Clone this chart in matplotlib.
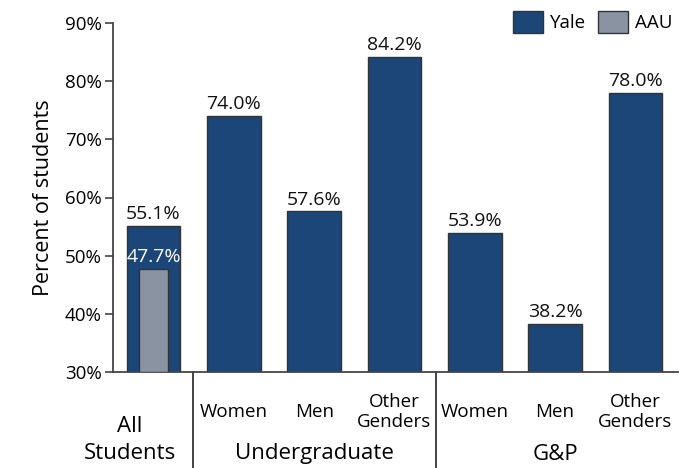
import matplotlib
matplotlib.use("Agg")
import matplotlib.pyplot as plt
from matplotlib.patches import Patch

plt.rcParams['font.family'] = ['Open Sans', 'DejaVu Sans']

categories = ["All\nStudents", "Women", "Men", "Other\nGenders", "Women", "Men", "Other\nGenders"]
yale_values = [55.1, 74.0, 57.6, 84.2, 53.9, 38.2, 78.0]
aau_values = [47.7]
groups = ["Undergraduate", "G&P"]
yticks = [30, 40, 50, 60, 70, 80, 90]

yale_color = "#1b4677"
aau_color = "#8a93a2"
edge = "#333333"

fig = plt.figure(figsize=(6.96, 4.68), dpi=100)
ax = fig.add_axes([113/696, 1-372/468, (678-113)/696, (372-23)/468])

x = list(range(len(yale_values)))
ax.bar(x, [v - 30 for v in yale_values], bottom=30, width=0.67, color=yale_color,
       edgecolor=edge, linewidth=1.0, zorder=2)
ax.bar([0], [v - 30 for v in aau_values], bottom=30, width=0.37, color=aau_color,
       edgecolor=edge, linewidth=1.0, zorder=3)

for xi, v in zip(x, yale_values):
    ax.text(xi, v + 0.5, f"{v:.1f}%", ha="center", va="bottom", fontsize=14, color="#111111")
ax.text(0, aau_values[0] + 0.5, f"{aau_values[0]:.1f}%", ha="center", va="bottom",
        fontsize=14, color="white", zorder=4)

ax.set_ylim(30, 90)
ax.set_xlim(-0.505, 6.53)
ax.set_yticks(yticks)
ax.set_yticklabels([f"{t}%" for t in yticks], fontsize=13.5)
ax.set_xticks([])
ax.tick_params(axis="y", length=6, width=1.2, color="#444444", pad=2)
for s in ["top", "right"]:
    ax.spines[s].set_visible(False)
for s in ["left", "bottom"]:
    ax.spines[s].set_color("#444444")
    ax.spines[s].set_linewidth(1.3)
ax.set_ylabel("Percent of students", fontsize=15.5, labelpad=8)

trans = ax.get_xaxis_transform()
# category labels
for xi, lab in zip(x[1:], categories[1:]):
    ax.text(xi, -(412-372)/349, lab, transform=trans, ha="center", va="center",
            fontsize=13.5, linespacing=1.1)
ax.text(-0.3, -(440-372)/349, categories[0], transform=trans, ha="center", va="center",
        fontsize=16, linespacing=1.35)
ax.text(2, -(454-372)/349, groups[0], transform=trans, ha="center", va="center", fontsize=16)
ax.text(5, -(454-372)/349, groups[1], transform=trans, ha="center", va="center", fontsize=16)
for sx in [0.49, 3.52]:
    ax.plot([sx, sx], [0, -(468-372)/349], transform=trans, color="#222222", lw=1.2, clip_on=False)

handles = [Patch(facecolor=yale_color, edgecolor=edge, label="Yale"),
           Patch(facecolor=aau_color, edgecolor=edge, label="AAU")]
fig.legend(handles=handles, loc="upper right", bbox_to_anchor=(0.99, 1.012), ncol=2,
           frameon=False, fontsize=13.5, handlelength=1.6, handleheight=1.4,
           columnspacing=0.64, handletextpad=0.35)

fig.savefig("out.png", dpi=100)
